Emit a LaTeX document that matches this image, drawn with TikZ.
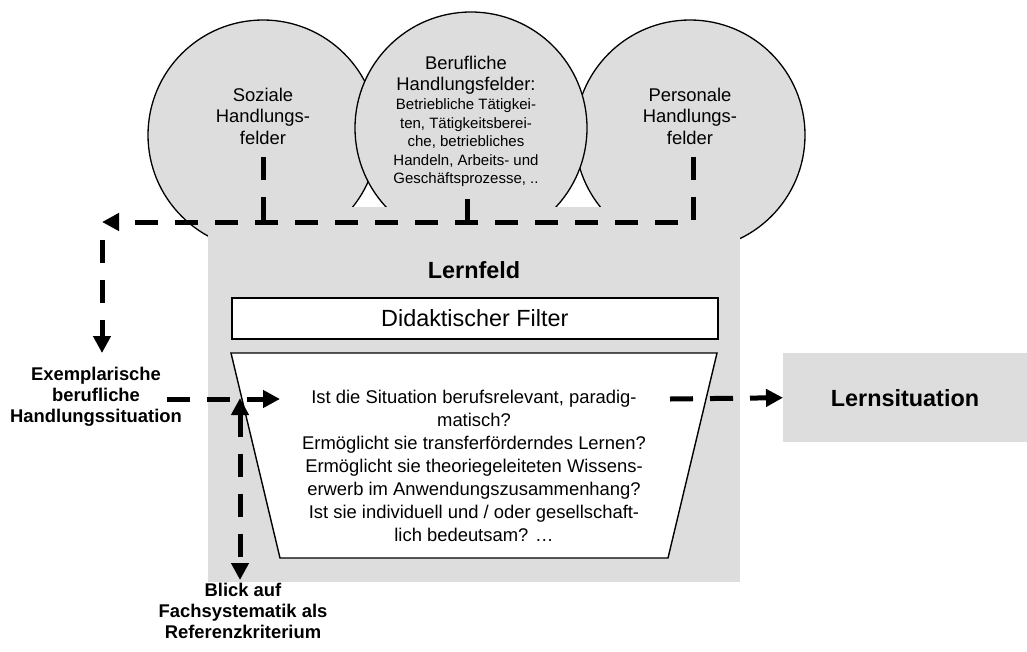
\documentclass[tikz,border=0pt]{standalone}
\usepackage{fontspec}
\setmainfont{Liberation Sans}
\usetikzlibrary{arrows.meta}
\definecolor{fillgray}{RGB}{221,221,221}
\begin{document}
\begin{tikzpicture}[x=1pt,y=-1pt,
  bubble/.style={circle, draw=black, line width=1.3pt, fill=fillgray, inner sep=0pt},
  dashline/.style={line width=5pt, dash pattern=on 23pt off 17pt},
  conn/.style={dashline, -{Triangle[length=17pt,width=17pt]}},
  conntwo/.style={dashline, {Triangle[length=17pt,width=17pt]}-{Triangle[length=17pt,width=17pt]}},
  txt/.style={align=center, inner sep=0pt, font=\fontsize{18.4}{21.5}\selectfont},
  qtxt/.style={align=center, inner sep=0pt, font=\fontsize{18.4}{23}\selectfont},
  smalltxt/.style={align=center, inner sep=0pt, font=\fontsize{15}{18.5}\selectfont},
  lbl/.style={align=center, inner sep=0pt, font=\fontsize{18.4}{20.8}\selectfont\bfseries},
  bigbold/.style={inner sep=0pt, font=\fontsize{23.4}{26}\selectfont\bfseries}
]
\useasboundingbox (0,0) rectangle (1027,651);

% circles
\node[bubble, minimum size=230pt] (soz) at (263,135) {};
\node[bubble, minimum size=230pt] (per) at (690,135) {};
\node[bubble, minimum size=232pt] (ber) at (471,128) {};

% Lernfeld area
\node[fill=fillgray, inner sep=0pt, minimum width=532pt, minimum height=375pt, anchor=north west] (lf) at (208,207) {};
\node[bigbold] (lftitle) at (474,270) {Lernfeld};
\node[draw=black, line width=1.6pt, fill=white, inner sep=0pt, minimum width=486pt, minimum height=41pt, anchor=north west, font=\fontsize{23.4}{26}\selectfont] (filter) at (231,297) {Didaktischer Filter};
\draw[line width=1.4pt, fill=white] (231,353) -- (717,353) -- (668,558) -- (280,558) -- cycle;
\node[qtxt] (quest) at (474,466) {Ist die Situation berufsrelevant, paradig-\\matisch?\\Ermöglicht sie transferförderndes Lernen?\\Ermöglicht sie theoriegeleiteten Wissens-\\erwerb im Anwendungszusammenhang?\\Ist sie individuell und / oder gesellschaft-\\lich bedeutsam? …};

% Lernsituation
\node[fill=fillgray, inner sep=0pt, minimum width=244pt, minimum height=89pt, anchor=north west] (ls) at (783,353) {};
\node[bigbold] (lstxt) at (905,398) {Lernsituation};

% circle texts
\node[txt] (soztxt) at (263,116) {Soziale\\Handlungs-\\felder};
\node[txt] (pertxt) at (690,116) {Personale\\Handlungs-\\felder};
\node[txt] (bertitle) at (466,75) {Berufliche\\Handlungsfelder:};
\node[smalltxt] (berdet) at (466,143) {Betriebliche Tätigkei-\\ten, Tätigkeitsberei-\\che, betriebliches\\Handeln, Arbeits- und\\Geschäftsprozesse, ..};

% labels
\node[lbl] (exl) at (96,397) {Exemplarische\\berufliche\\Handlungssituation};
\node[lbl] (blick) at (243,611) {Blick auf\\Fachsystematik als\\Referenzkriterium};

% connector coordinates
\coordinate (pStart) at (693,157);
\coordinate (sStart) at (263,157);
\coordinate (sEnd) at (263,222);
\coordinate (bStart) at (467,199);
\coordinate (bEnd) at (467,222);
\coordinate (leftTip) at (102,222);
\coordinate (downStart) at (102,240);
\coordinate (downTip) at (102,353);
\coordinate (exStart) at (167,399);
\coordinate (exTip) at (280,399);
\coordinate (upTip) at (240,398);
\coordinate (bottomTip) at (240,580);
\coordinate (rStart) at (670,399);

% connectors
\draw[conn] (pStart) |- (leftTip);
\draw[dashline] (sStart) -- (sEnd);
\draw[dashline] (bStart) -- (bEnd);
\draw[conn] (downStart) -- (downTip);
\draw[conn] (exStart) -- (exTip);
\draw[conntwo] (upTip) -- (bottomTip);
\draw[conn] (rStart) -- (ls.west);
\end{tikzpicture}
\end{document}
